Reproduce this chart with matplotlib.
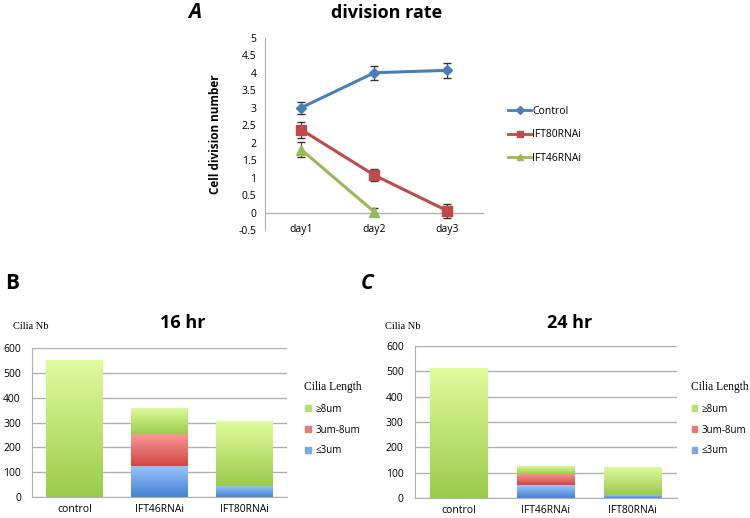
import numpy as np
import matplotlib
matplotlib.use("Agg")
import matplotlib.pyplot as plt
from matplotlib.lines import Line2D
from matplotlib.patches import Patch
from matplotlib.colors import LinearSegmentedColormap

# panel A data
days = ['day1', 'day2', 'day3']
control = [3.0, 4.0, 4.07]
control_err = [0.17, 0.2, 0.22]
ift80 = [2.37, 1.07, 0.05]
ift80_err = [0.23, 0.18, 0.2]
ift46 = [1.8, 0.02]
ift46_err = [0.22, 0.12]

# panels B, C data
groups = ['control', 'IFT46RNAi', 'IFT80RNAi']
short_16 = [0, 125, 45]
mid_16 = [0, 130, 0]
long_16 = [550, 105, 260]
short_24 = [0, 50, 10]
mid_24 = [0, 45, 0]
long_24 = [512, 33, 112]

blue_line = '#4a7ebb'
red_line = '#be4b48'
green_line = '#98b954'
c_long = '#b3e06e'
c_mid = '#e97a78'
c_short = '#78a9ea'
grad_long = ('#9bcb4c', '#dffc9c')
grad_mid = ('#d34642', '#f99a98')
grad_short = ('#4682d4', '#9cc6fb')
grid_c = '#b0b0b0'

plt.rcParams['font.family'] = ['Open Sans', 'DejaVu Sans']

fig = plt.figure(figsize=(7.5, 5.18), dpi=100)

# ---- A ----
ax = fig.add_axes([0.353, 0.556, 0.292, 0.371])
x = np.arange(3) + 0.5
ax.errorbar(x, control, yerr=control_err, color=blue_line, marker='D', ms=5,
            lw=2.2, capsize=3, ecolor='#333333', elinewidth=0.8, label='Control')
ax.errorbar(x, ift80, yerr=ift80_err, color=red_line, marker='s', ms=7,
            lw=2.2, capsize=3, ecolor='#333333', elinewidth=0.8, label='IFT80RNAi')
ax.errorbar(x[:2], ift46, yerr=ift46_err, color=green_line, marker='^', ms=7,
            lw=2.2, capsize=3, ecolor='#333333', elinewidth=0.8, label='IFT46RNAi')
ax.set_xlim(0, 3)
ax.set_ylim(-0.5, 5)
ax.set_yticks(np.arange(-0.5, 5.01, 0.5))
ax.set_yticklabels([f'{v:g}' for v in np.arange(-0.5, 5.01, 0.5)], fontsize=7.5)
ax.axhline(0, color=grid_c, lw=1, zorder=0)
for s in ['top', 'right', 'bottom']:
    ax.spines[s].set_visible(False)
ax.spines['left'].set_color(grid_c)
ax.tick_params(axis='y', length=0, pad=6)
ax.set_xticks([])
for xi, d in zip(x, days):
    ax.text(xi, -0.5, d, ha='center', va='center', fontsize=7.5)
ax.set_ylabel('Cell division number', fontsize=8.5, fontweight='bold', labelpad=12)
fig.text(0.516, 0.975, 'division rate', ha='center', va='center', fontsize=13, fontweight='bold')
fig.text(0.26, 0.975, 'A', ha='center', va='center', fontsize=15, fontweight='bold', style='italic')

handles = [Line2D([], [], color=blue_line, marker='D', ms=4, lw=2),
           Line2D([], [], color=red_line, marker='s', ms=5, lw=2),
           Line2D([], [], color=green_line, marker='^', ms=5, lw=2)]
fig.legend(handles, ['Control', 'IFT80RNAi', 'IFT46RNAi'], loc='center left',
           bbox_to_anchor=(0.665, 0.74), frameon=False, fontsize=7.5,
           handlelength=2.2, handletextpad=0.1, labelspacing=1.2)


def shade(ax, bars, colors):
    # vertical gradient: darker at the bottom, lighter at the top
    cmap = LinearSegmentedColormap.from_list('g', colors)
    grad = np.linspace(0, 1, 100).reshape(-1, 1)
    for b in bars:
        if b.get_height() <= 0:
            continue
        x0, y0 = b.get_x(), b.get_y()
        im = ax.imshow(grad, cmap=cmap, origin='lower', aspect='auto',
                       extent=[x0, x0 + b.get_width(), y0, y0 + b.get_height()],
                       zorder=2.5)
        im.set_clip_path(b)
        b.set_facecolor('none')


def bar_panel(rect, short, mid, long_, title, title_x, nb_x, leg_x):
    ax = fig.add_axes(rect)
    xb = np.arange(3) + 0.5
    w = 0.66
    b1 = ax.bar(xb, short, w, color=c_short, zorder=2, lw=0)
    b2 = ax.bar(xb, mid, w, bottom=short, color=c_mid, zorder=2, lw=0)
    b3 = ax.bar(xb, long_, w, bottom=np.add(short, mid), color=c_long, zorder=2, lw=0)
    shade(ax, b1, grad_short)
    shade(ax, b2, grad_mid)
    shade(ax, b3, grad_long)
    ax.set_xlim(0, 3)
    ax.set_ylim(0, 600)
    ax.set_yticks(range(0, 601, 100))
    ax.tick_params(axis='y', labelsize=7.5, length=0, pad=8)
    ax.set_xticks(xb)
    ax.set_xticklabels(groups, fontsize=7.5)
    ax.tick_params(axis='x', length=0, pad=5)
    ax.yaxis.grid(True, color=grid_c, lw=1, zorder=0)
    ax.set_axisbelow(True)
    for s in ['top', 'right']:
        ax.spines[s].set_visible(False)
    ax.spines['left'].set_color(grid_c)
    ax.spines['bottom'].set_color(grid_c)
    fig.text(title_x, 0.377, title, ha='center', va='center', fontsize=13, fontweight='bold')
    fig.text(nb_x, 0.369, 'Cilia Nb', ha='center', va='center', fontsize=7.5,
             family='Liberation Serif')
    fig.text(leg_x, 0.253, 'Cilia Length', ha='left', va='center', fontsize=8.3,
             family='Liberation Serif')
    ph = [Patch(color=c_long), Patch(color=c_mid), Patch(color=c_short)]
    fig.legend(ph, ['≥8um', '3um-8um', '≤3um'], loc='upper left',
               bbox_to_anchor=(leg_x - 0.004, 0.228), frameon=False, fontsize=7,
               handlelength=0.6, handleheight=0.6, handletextpad=0.4, labelspacing=1.0,
               borderaxespad=0)
    return ax


bar_panel([0.0427, 0.0405, 0.34, 0.2876], short_16, mid_16, long_16,
          '16 hr', 0.244, 0.041, 0.406)
bar_panel([0.553, 0.0386, 0.349, 0.2934], short_24, mid_24, long_24,
          '24 hr', 0.76, 0.537, 0.921)

fig.text(0.016, 0.453, 'B', ha='center', va='center', fontsize=15, fontweight='bold')
fig.text(0.489, 0.453, 'C', ha='center', va='center', fontsize=15, fontweight='bold', style='italic')

fig.savefig('out.png', dpi=100)
